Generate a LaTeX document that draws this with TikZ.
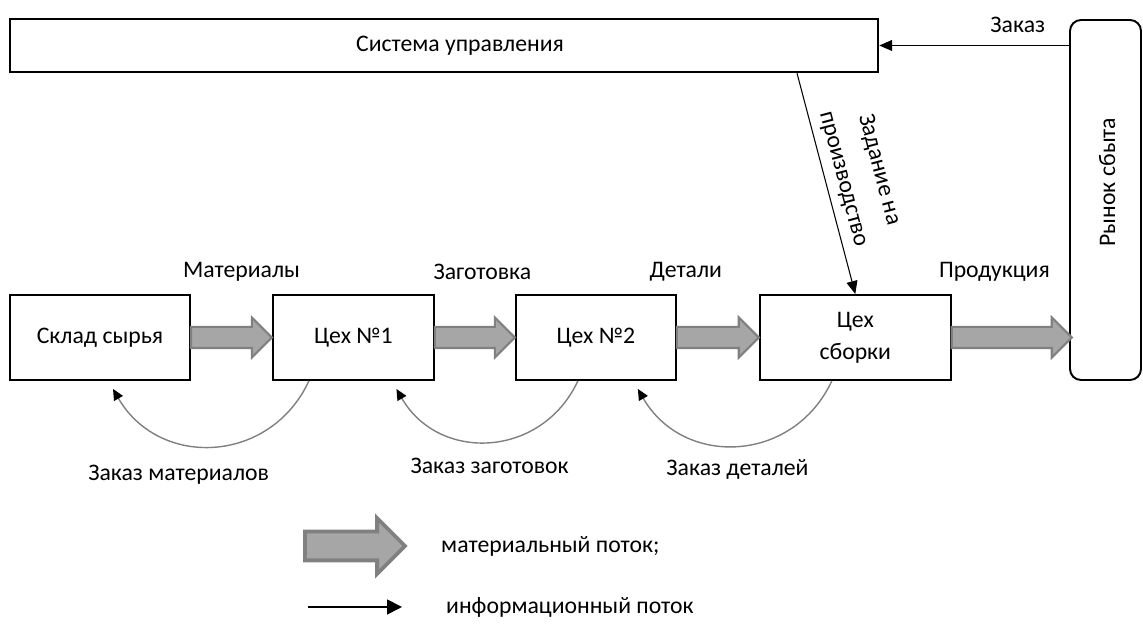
\documentclass[tikz,border=0pt]{standalone}
\usepackage{fontspec}
\setmainfont{Carlito}
\usetikzlibrary{calc}
\usetikzlibrary{positioning}
\usetikzlibrary{shapes.arrows}
\usetikzlibrary{arrows.meta}
\definecolor{flowfill}{HTML}{A6A6A6}
\definecolor{flowline}{HTML}{808080}
\tikzset{
	every node/.style={font=\fontsize{13.5}{18}\selectfont},
	unit/.style={draw, line width=1.1pt, minimum height=1.7cm, align=center, inner sep=2pt},
	flow/.style={single arrow, fill=flowfill, draw=flowline, line width=1.2pt, inner xsep=0pt, inner ysep=0.19cm, single arrow head extend=0.19cm, outer sep=0pt, anchor=tail},
	info/.style={line width=0.6pt, -{Triangle[length=0.26cm, width=0.22cm]}},
	order/.style={draw=flowline, line width=0.8pt, looseness=1.2, -{Triangle[color=black, length=0.22cm, width=0.2cm]}}
}

\begin{document}
\begin{tikzpicture}
		\useasboundingbox (0,0) rectangle (22.86,12.54);
		% workshops
		\node[unit, minimum width=3.6cm] (sklad) at (2.0,5.79) {Склад сырья};
		\node[unit, minimum width=3.22cm, right=1.62cm of sklad] (ceh1) {Цех №1};
		\node[unit, minimum width=3.2cm, right=1.6cm of ceh1] (ceh2) {Цех №2};
		\node[unit, minimum width=3.82cm, right=1.64cm of ceh2] (sborka) {Цех\\сборки};
		\node[draw, line width=1.1pt, rounded corners=0.22cm, minimum width=1.42cm, minimum height=7.2cm] (market) at (22.11,8.54) {};
		\node[rotate=90] at (22.14,8.9) {Рынок сбыта};
		\node[draw, line width=1.4pt, minimum width=17.36cm, minimum height=1.06cm] (ctrl) at (8.88,11.63) {};
		\node at (9.2,11.63) {Система управления};
		% material flow
		\node[flow, minimum height=1.62cm] (f1) at (sklad.east) {};
		\node[flow, minimum height=1.6cm] (f2) at (ceh1.east) {};
		\node[flow, minimum height=1.64cm] (f3) at (ceh2.east) {};
		\node[flow, minimum height=2.4cm] (f4) at (sborka.east) {};
		\node at ($(sklad.east)!0.5!(ceh1.west)+(0.2,1.31)$) {Материалы};
		\node at ($(ceh1.east)!0.5!(ceh2.west)+(0.15,1.31)$) {Заготовка};
		\node at ($(ceh2.east)!0.5!(sborka.west)+(-0.64,1.31)$) {Детали};
		\node at ($(sborka.east)!0.5!(market.west |- sborka.east)+(-0.32,1.31)$) {Продукция};
		% information flow
		\draw[info] (ctrl.east -| market.west) -- node[above=0.12cm, pos=0.27] {Заказ} (ctrl.east);
		\draw[info] ([xshift=7.06cm]ctrl.south) -- node[midway, sloped, above=1pt, align=center] {Задание на\\[3pt]производство} (sborka.north);
		\draw[order] ([xshift=-0.89cm]ceh1.south) to[out=-115, in=-60] node[pos=0.5, below=0.25cm, xshift=-0.7cm] {Заказ материалов} ([xshift=0.26cm, yshift=-0.16cm]sklad.south);
		\draw[order] ([xshift=-0.36cm]ceh2.south) to[out=-115, in=-60] node[pos=0.5, below=0.2cm] {Заказ заготовок} ([xshift=0.86cm, yshift=-0.16cm]ceh1.south);
		\draw[order] ([xshift=-0.47cm]sborka.south) to[out=-115, in=-60] node[pos=0.5, below=0.15cm] {Заказ деталей} ([xshift=0.84cm, yshift=-0.16cm]ceh2.south);
		% legend
		\node[flow, minimum height=2cm, inner ysep=0.25cm, single arrow head extend=0.27cm, line width=2.2pt] (lmat) at (6.1,1.62) {};
		\node[right=0.6cm of lmat.tip] (lmattext) {материальный поток;};
		\coordinate (linfoA) at (6.16,0.4);
		\coordinate (linfoB) at (8.04,0.4);
		\draw[line width=1pt, -{Triangle[length=0.3cm, width=0.3cm]}] (linfoA) -- (linfoB);
		\node[right=0.76cm of linfoB] (linfotext) {информационный поток};
	\end{tikzpicture}
\end{document}
